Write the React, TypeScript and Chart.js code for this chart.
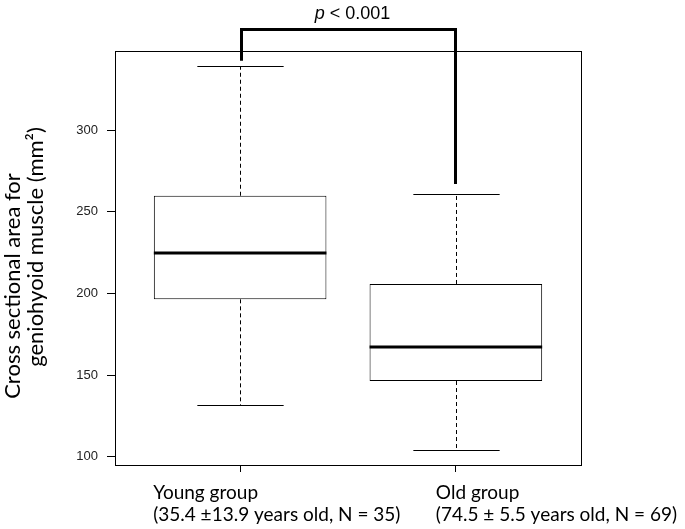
import React, { useEffect, useRef } from "react";
import { Chart, registerables } from "chart.js";

Chart.register(...registerables);

// ---- data ----
const groups = ["Young group", "Old group"];
const groupDetails = ["(35.4 \u00b113.9 years old, N = 35)", "(74.5 \u00b1 5.5 years old, N = 69)"];
const positions = [1, 2];
const whiskerLow = [131.7, 104.4];
const q1 = [196.4, 146.4];
const median = [224.5, 167.4];
const q3 = [259.8, 205.8];
const whiskerHigh = [339.0, 260.8];
const yTicks = [100, 150, 200, 250, 300];
const yRange = [95.0, 348.4];
const xRange = [0.42, 2.58];
const pLabelItalic = "p";
const pLabelRest = " < 0.001";
const bracketTop = 362;
const bracketEnds = [342.5, 267];
const yTitle = ["Cross sectional area for", "geniohyoid muscle (mm\u00b2)"];

const LABEL_FONT = "Lato, 'Open Sans', sans-serif";
const ARIAL = "'Liberation Sans', Arial, sans-serif";

const extrasPlugin = {
  id: "boxExtras",
  beforeDraw(chart: any) {
    const ctx = chart.ctx;
    ctx.save();
    ctx.fillStyle = "#fff";
    ctx.fillRect(0, 0, chart.width, chart.height);
    ctx.restore();
  },
  afterDatasetsDraw(chart: any) {
    const { ctx, chartArea: a, scales } = chart;
    const xs = scales.x;
    const ys = scales.y;
    const meta = chart.getDatasetMeta(0);
    ctx.save();
    const line = (x1: number, y1: number, x2: number, y2: number) => {
      ctx.beginPath();
      ctx.moveTo(x1, y1);
      ctx.lineTo(x2, y2);
      ctx.stroke();
    };
    // frame
    ctx.strokeStyle = "#000";
    ctx.lineWidth = 1;
    ctx.strokeRect(Math.round(a.left) + 0.5, Math.round(a.top) + 0.5, Math.round(a.right - a.left), Math.round(a.bottom - a.top));

    positions.forEach((p, i) => {
      const cx = Math.round(xs.getPixelForValue(p)) + 0.5;
      const bar = meta.data[i];
      const half = bar.width / 2;
      ctx.strokeStyle = "#000";
      ctx.lineWidth = 1;
      ctx.setLineDash([4, 3]);
      line(cx, ys.getPixelForValue(q3[i]), cx, ys.getPixelForValue(whiskerHigh[i]));
      line(cx, ys.getPixelForValue(q1[i]), cx, ys.getPixelForValue(whiskerLow[i]));
      ctx.setLineDash([]);
      const yh = Math.round(ys.getPixelForValue(whiskerHigh[i])) + 0.5;
      const yl = Math.round(ys.getPixelForValue(whiskerLow[i])) + 0.5;
      line(cx - half / 2, yh, cx + half / 2, yh);
      line(cx - half / 2, yl, cx + half / 2, yl);
      ctx.lineWidth = 3;
      const ym = Math.round(ys.getPixelForValue(median[i]));
      line(bar.x - half, ym, bar.x + half, ym);
    });

    // significance bracket
    const bx1 = Math.round(xs.getPixelForValue(positions[0])) + 1.5;
    const bx2 = Math.round(xs.getPixelForValue(positions[1])) - 0.5;
    const by = Math.round(ys.getPixelForValue(bracketTop)) + 0.5;
    ctx.lineWidth = 3;
    ctx.lineJoin = "miter";
    ctx.lineCap = "butt";
    ctx.beginPath();
    ctx.moveTo(bx1, ys.getPixelForValue(bracketEnds[0]));
    ctx.lineTo(bx1, by);
    ctx.lineTo(bx2, by);
    ctx.lineTo(bx2, ys.getPixelForValue(bracketEnds[1]));
    ctx.stroke();

    // p label
    ctx.fillStyle = "#000";
    ctx.textBaseline = "alphabetic";
    ctx.textAlign = "left";
    ctx.font = `italic 18px ${ARIAL}`;
    const w1 = ctx.measureText(pLabelItalic).width;
    ctx.font = `18px ${ARIAL}`;
    const w2 = ctx.measureText(pLabelRest).width;
    const startX = (bx1 + bx2) / 2 + 4 - (w1 + w2) / 2;
    const baseY = by - 11;
    ctx.font = `italic 18px ${ARIAL}`;
    ctx.fillText(pLabelItalic, startX, baseY);
    ctx.font = `18px ${ARIAL}`;
    ctx.fillText(pLabelRest, startX + w1, baseY);

    // category labels
    const labelOffsets = [-87, -20];
    ctx.font = `19px ${LABEL_FONT}`;
    ctx.fillStyle = "#000";
    positions.forEach((p, i) => {
      const lx = xs.getPixelForValue(p) + labelOffsets[i];
      ctx.fillText(groups[i], lx, a.bottom + 34);
      ctx.fillText(groupDetails[i], lx, a.bottom + 56);
    });

    // y title
    const titleCenters = [
      [13, 286],
      [36, 247],
    ];
    yTitle.forEach((t, i) => {
      ctx.save();
      ctx.textAlign = "center";
      ctx.textBaseline = "middle";
      ctx.font = `22px ${LABEL_FONT}`;
      ctx.translate(titleCenters[i][0], titleCenters[i][1]);
      ctx.rotate(-Math.PI / 2);
      ctx.fillText(t, 0, 0);
      ctx.restore();
    });

    ctx.restore();
  },
};

export default function App() {
  const canvasRef = useRef<HTMLCanvasElement>(null);

  useEffect(() => {
    const canvas = canvasRef.current;
    if (!canvas) return;
    const chart = new Chart(canvas, {
      type: "bar",
      data: {
        datasets: [
          {
            data: positions.map((p, i) => ({ x: p, y: [q1[i], q3[i]] })) as any,
            backgroundColor: "#ffffff",
            borderColor: "#000000",
            borderWidth: 1,
            borderSkipped: false,
            categoryPercentage: 0.8,
            barPercentage: 1.0,
          } as any,
        ],
      },
      options: {
        responsive: false,
        animation: false,
        devicePixelRatio: 1,
        layout: { padding: { left: 0, top: 51, right: 104, bottom: 0 } },
        plugins: {
          legend: { display: false },
          tooltip: { enabled: false },
        },
        scales: {
          x: {
            type: "linear",
            min: xRange[0],
            max: xRange[1],
            offset: false,
            grid: {
              offset: false,
              drawOnChartArea: false,
              drawTicks: true,
              tickLength: 7,
              color: "#000",
              lineWidth: 1,
            },
            border: { display: false },
            ticks: { callback: () => "", padding: 0 },
            afterBuildTicks: (scale: any) => {
              scale.ticks = positions.map((v) => ({ value: v }));
            },
            afterFit: (scale: any) => {
              scale.height = 64;
            },
          },
          y: {
            type: "linear",
            min: yRange[0],
            max: yRange[1],
            grid: {
              drawOnChartArea: false,
              drawTicks: true,
              tickLength: 8,
              color: "#000",
              lineWidth: 1,
            },
            border: { display: false },
            ticks: {
              font: { family: ARIAL, size: 13 },
              color: "#222",
              padding: 9,
            },
            afterBuildTicks: (scale: any) => {
              scale.ticks = yTicks.map((v) => ({ value: v }));
            },
            afterFit: (scale: any) => {
              scale.width = 115;
            },
          },
        },
      } as any,
      plugins: [extrasPlugin],
    });
    return () => chart.destroy();
  }, []);

  return (
    <div style={{ position: "fixed", left: 0, top: 0, width: 685, height: 529 }}>
      <canvas ref={canvasRef} width={685} height={529} style={{ display: "block" }} />
    </div>
  );
}
